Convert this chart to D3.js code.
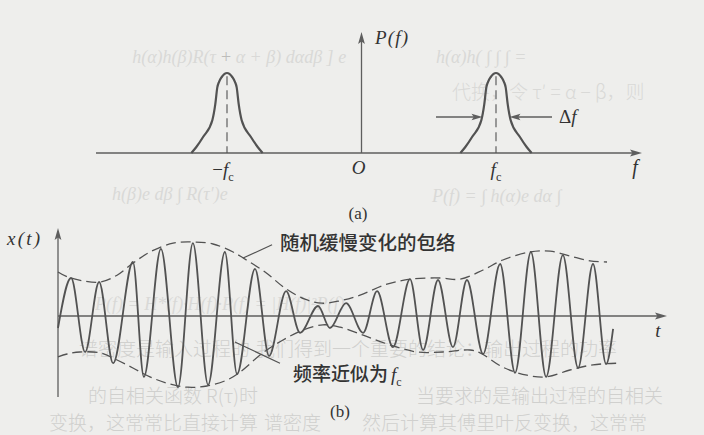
<!DOCTYPE html>
<html><head><meta charset="utf-8">
<script src="https://cdn.jsdelivr.net/npm/d3@7"></script>
<style>html,body{margin:0;padding:0;background:#eeeeec;}svg{display:block}</style>
</head><body><svg id="c" width="704" height="435"></svg>
<script>
// ---------------- DATA ----------------
// (a) power spectrum: two narrow peaks at -fc and +fc (fc = 1)
const peakCenters = [-1, 1];
const peakOffsets = [-0.265,-0.228,-0.178,-0.109,-0.087,-0.072,-0.059,-0.039,0,0.039,0.059,0.072,0.087,0.109,0.178,0.228,0.265];
const peakLevels  = [0,0.075,0.2,0.41,0.61,0.82,0.89,0.95,1,0.95,0.89,0.82,0.61,0.41,0.2,0.075,0];
const deltaFLevel = 0.45;   // level where the Δf arrows touch
const deltaFHalf  = 0.1;    // half bandwidth
const freqTicks = [-1, 0, 1];
const freqTickLabels = ["−f_c", "O", "f_c"];

// (b) narrowband random signal x(t): successive extrema
const signalT = [0,0.43,0.89,1.35,1.81,2.46,2.82,3.38,3.94,4.43,4.93,5.48,5.88,6.47,6.93,7.49,7.95,8.54,8.93,9.46,10.02,10.48,11.00,11.56,11.99,12.48,12.97,13.43,13.96,14.52,15.01,15.53,16.03,16.58,17.08,17.57,18.00,18.23];
const signalX = [-0.15,0.475,-0.45,0.425,-0.59,0.675,-0.76,0.84,-0.89,0.91,-0.86,0.80,-0.725,0.59,-0.50,0.31,-0.21,0.125,-0.15,0.16,-0.21,0.31,-0.39,0.46,-0.425,0.45,-0.39,0.45,-0.475,0.65,-0.71,0.80,-0.76,0.76,-0.65,0.65,-0.60,-0.16];
// slowly varying envelope (dashed)
const upperT = [0,0.30,0.82,1.38,1.94,2.46,3.02,3.78,4.43,5.09,5.75,6.08,6.80,7.45,8.11,8.67,9.26,9.92,10.74,11.56,12.55,13.20,13.96,14.61,15.50,16.16,16.81,17.47,18.03];
const upperX = [0.55,0.49,0.44,0.425,0.51,0.66,0.80,0.91,0.925,0.90,0.80,0.725,0.55,0.35,0.21,0.16,0.19,0.26,0.39,0.46,0.475,0.46,0.575,0.70,0.80,0.81,0.75,0.69,0.675];
const lowerT = [0,0.30,0.72,1.38,1.94,2.46,3.02,3.58,4.24,4.89,5.55,5.98,6.73,7.39,8.05,8.70,9.26,10.02,10.90,11.79,12.64,13.53,13.86,14.61,15.40,16.06,16.81,17.57,18.36];
const lowerX = [-0.51,-0.475,-0.45,-0.46,-0.55,-0.65,-0.76,-0.84,-0.89,-0.875,-0.80,-0.70,-0.46,-0.30,-0.175,-0.11,-0.14,-0.24,-0.36,-0.45,-0.45,-0.425,-0.46,-0.64,-0.74,-0.76,-0.675,-0.61,-0.59];

// ---------------- DRAW ----------------
const svg = d3.select("#c");
const INK = "#525252", AX = "#5e5e5e", TXT = "#333";
svg.append("rect").attr("width",704).attr("height",435).attr("fill","#eeeeec");

// faint show-through text of the printed page
const faint = svg.append("g");
const fCJK = {"font-family":"'Noto Sans CJK SC'","font-size":19,"font-weight":300,"fill":"#d0d0ce"};
const fSer = {"font-family":"'Liberation Serif'","font-size":18,"font-style":"italic","fill":"#d9d9d7"};
function ft(x,y,s,st,anchor){const t=faint.append("text").attr("x",x).attr("y",y).text(s).attr("text-anchor",anchor||"start");for(const k in st)t.attr(k,st[k]);return t;}
ft(216,63,"h(α)h(β)R(τ",fSer,"end");
const plusRow = ft(221,63,"",fSer);
plusRow.append("tspan").attr("fill","#bcbcba").attr("font-style","normal").text("+");
plusRow.append("tspan").text(" α + β) dαdβ ] e");
ft(436,63,"h(α)h(   ∫   ∫  ∫   =",fSer);
ft(452,99,"代换，令 τ′ = α − β，则",Object.assign({},fCJK,{fill:"#d9d9d7"}));
ft(112,200,"h(β)e   dβ  ∫   R(τ′)e",fSer);
ft(432,202,"P(f) = ∫ h(α)e  dα ∫",fSer);
ft(95,310,"P(f) = H*(f)·H(f)·P(f) = |H(f)|²P(f)",fSer);
ft(250,356,"谱密度是输入过程的",fCJK,"end");
ft(256,356,"我们得到一个重要的结论：输出过程的功率",fCJK);
ft(258,403,"的自相关函数 R(τ)时",fCJK,"end");
ft(416,403,"当要求的是输出过程的自相关",fCJK);
ft(258,430,"变换，这常常比直接计算",fCJK,"end");
ft(264,430,"谱密度",fCJK);
ft(362,430,"然后计算其傅里叶反变换，这常常",fCJK);

function arrowHead(g, x, y, dir, len, half){
  let p;
  if(dir==="r") p=[[x,y],[x-len,y-half],[x-len*0.8,y],[x-len,y+half]];
  else if(dir==="l") p=[[x,y],[x+len,y-half],[x+len*0.8,y],[x+len,y+half]];
  else p=[[x,y],[x-half,y+len],[x,y+len*0.8],[x+half,y+len]];
  g.append("path").attr("d","M"+p.map(q=>q.join(",")).join("L")+"Z").attr("fill",AX);
}
function mathLabel(g, x, y, s, size, anchor){
  const t = g.append("text").attr("x",x).attr("y",y).attr("text-anchor",anchor||"middle")
    .attr("font-family","'Liberation Serif'").attr("font-size",size).attr("fill",TXT);
  const parts = s.split("_");
  let main = parts[0];
  const lead = main.match(/^[−Δ]/);
  if(lead){ t.append("tspan").text(lead[0]); main = main.slice(1); }
  t.append("tspan").attr("font-style","italic").text(main);
  if(parts[1]) t.append("tspan").attr("font-size",size*0.65).attr("dy",size*0.25).text(parts[1]);
  return t;
}

// ---- panel (a)
const xA = d3.scaleLinear().domain([-1,1]).range([227,496]);
const yA = d3.scaleLinear().domain([0,1]).range([153,73]);
const gA = svg.append("g");
const axY = yA(0);
gA.append("line").attr("x1",96).attr("x2",636).attr("y1",axY).attr("y2",axY).attr("stroke",AX).attr("stroke-width",1.3);
arrowHead(gA,642,axY,"r",12,3.4);
gA.append("line").attr("x1",xA(0)).attr("x2",xA(0)).attr("y1",axY).attr("y2",38).attr("stroke",AX).attr("stroke-width",1.3);
arrowHead(gA,xA(0),32,"u",12,3.4);

const peakLine = d3.line().x(d=>xA(d.f)).y(d=>yA(d.p)).curve(d3.curveMonotoneX);
peakCenters.forEach(c=>{
  const pts = peakOffsets.map((o,i)=>({f:c+o,p:peakLevels[i]}));
  gA.append("path").attr("d",peakLine(pts)).attr("fill","none").attr("stroke",INK).attr("stroke-width",2.2);
  gA.append("line").attr("x1",xA(c)).attr("x2",xA(c)).attr("y1",yA(0.96)).attr("y2",axY)
    .attr("stroke",INK).attr("stroke-width",1.1).attr("stroke-dasharray","9,5");
});
// Δf arrows on the +fc peak
const dY = yA(deltaFLevel);
gA.append("line").attr("x1",436).attr("x2",xA(1-deltaFHalf)-6).attr("y1",dY).attr("y2",dY).attr("stroke",AX).attr("stroke-width",1.3);
arrowHead(gA,xA(1-deltaFHalf),dY,"r",11,3.2);
gA.append("line").attr("x1",552).attr("x2",xA(1+deltaFHalf)+6).attr("y1",dY).attr("y2",dY).attr("stroke",AX).attr("stroke-width",1.3);
arrowHead(gA,xA(1+deltaFHalf),dY,"l",11,3.2);
mathLabel(gA,559,dY+6,"Δf",19,"start");
// labels
freqTicks.forEach((v,i)=>{
  const dx = v<0 ? -4 : (v===0 ? -3 : 0);
  mathLabel(gA,xA(v)+dx, v===0?174:176, freqTickLabels[i], 19);
});
mathLabel(gA,635,174,"f",20);
gA.append("text").attr("x",375).attr("y",44).attr("font-family","'Liberation Serif'").attr("font-size",19)
  .attr("font-style","italic").attr("letter-spacing",1.2).attr("fill",TXT).text("P(f)");
gA.append("text").attr("x",358).attr("y",219).attr("text-anchor","middle").attr("font-family","'Liberation Serif'")
  .attr("font-size",17).attr("fill",TXT).text("(a)");

// ---- panel (b)
const xB = d3.scaleLinear().domain([0,20]).range([58,667]);
const yB = d3.scaleLinear().domain([-1,1]).range([396,236]);
const gB = svg.append("g");
const tY = yB(0);
gB.append("line").attr("x1",xB(0)).attr("x2",661).attr("y1",tY).attr("y2",tY).attr("stroke",AX).attr("stroke-width",1.3);
arrowHead(gB,xB(20),tY,"r",12,3.4);
gB.append("line").attr("x1",xB(0)).attr("x2",xB(0)).attr("y1",397).attr("y2",234).attr("stroke",AX).attr("stroke-width",1.3);
arrowHead(gB,xB(0),228,"u",12,3.4);

const envLine = d3.line().x(d=>xB(d[0])).y(d=>yB(d[1])).curve(d3.curveCatmullRom.alpha(0.5));
[[upperT,upperX],[lowerT,lowerX]].forEach(([T,X])=>{
  gB.append("path").attr("d",envLine(T.map((t,i)=>[t,X[i]]))).attr("fill","none")
    .attr("stroke",INK).attr("stroke-width",1.3).attr("stroke-dasharray","10,5");
});
const sigLine = d3.line().x(d=>xB(d[0])).y(d=>yB(d[1])).curve(d3.curveMonotoneX);
gB.append("path").attr("d",sigLine(signalT.map((t,i)=>[t,signalX[i]]))).attr("fill","none")
  .attr("stroke",INK).attr("stroke-width",1.8).attr("stroke-linejoin","round");

// annotations
gB.append("line").attr("x1",xB(7.03)).attr("y1",yB(0.89)).attr("x2",xB(6.08)).attr("y2",yB(0.725)).attr("stroke",INK).attr("stroke-width",1.2);
gB.append("text").attr("x",280).attr("y",250).attr("font-family","'Noto Sans CJK SC'").attr("font-weight",500)
  .attr("font-size",19.5).attr("fill",TXT).text("随机缓慢变化的包络");
gB.append("line").attr("x1",xB(5.81)).attr("y1",yB(-0.325)).attr("x2",xB(7.29)).attr("y2",yB(-0.59)).attr("stroke",INK).attr("stroke-width",1.2);
const lab2 = gB.append("text").attr("x",293).attr("y",381).attr("font-family","'Noto Sans CJK SC'").attr("font-weight",500)
  .attr("font-size",19).attr("fill",TXT);
lab2.append("tspan").text("频率近似为");
lab2.append("tspan").attr("font-family","'Liberation Serif'").attr("font-style","italic").attr("font-weight",400).attr("dx",3).text("f");
lab2.append("tspan").attr("font-family","'Liberation Serif'").attr("font-weight",400).attr("font-size",12).attr("dy",5).text("c");

gB.append("text").attr("x",7).attr("y",245).attr("font-family","'Liberation Serif'").attr("font-size",19)
  .attr("font-style","italic").attr("letter-spacing",2.2).attr("fill",TXT).text("x(t)");
mathLabel(gB,658,337,"t",19);
gB.append("text").attr("x",340).attr("y",417).attr("text-anchor","middle").attr("font-family","'Liberation Serif'")
  .attr("font-size",17).attr("fill",TXT).text("(b)");
</script></body></html>
